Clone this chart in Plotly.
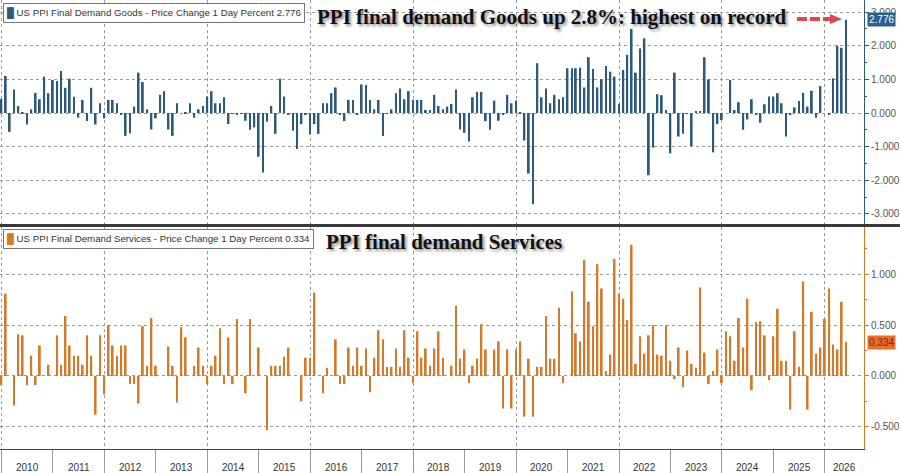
import pandas as pd
import plotly.graph_objects as go

# ---------------- data ----------------
months = pd.date_range("2009-12-31", periods=198, freq="ME")

goods = [
    0.42, 1.10, -0.56, 0.70, 0.21, 0.02, -0.34, 0.11, 0.60, 0.41, 1.08, 0.59,
    0.98, 0.95, 1.25, 0.75, 1.02, 0.48, -0.14, 0.39, -0.24, 0.75, -0.34, 0.29,
    -0.16, 0.39, 0.39, 0.29, -0.06, -0.68, -0.60, 0.19, 1.20, 0.92, 0.11, -0.49,
    -0.16, 0.54, 0.65, -0.49, -0.68, 0.29, 0.00, 0.01, 0.29, -0.14, 0.11, 0.21,
    0.49, 0.65, 0.29, 0.29, 0.47, -0.33, -0.02, -0.06, -0.02, -0.23, -0.50, -0.43,
    -1.30, -1.77, -0.26, 0.21, -0.62, 1.02, 0.49, -0.06, -0.53, -1.07, -0.33, -0.06,
    -0.63, -0.33, -0.62, 0.29, 0.29, 0.59, 0.76, -0.06, -0.24, 0.39, 0.39, -0.06,
    0.85, 0.83, 0.39, 0.11, 0.39, -0.68, -0.02, 0.11, 0.59, 0.73, 0.41, 0.65,
    0.39, 0.39, 0.39, 0.09, 0.09, 0.54, 0.21, 0.11, 0.19, 0.27, 0.70, -0.49,
    -0.59, -0.85, 0.47, 0.63, 0.63, -0.24, -0.50, 0.37, -0.23, -0.06, 0.54, 0.29,
    0.37, 0.02, -0.82, -1.80, -2.71, 1.48, 0.47, 0.73, 0.29, 0.54, 0.41, 0.47,
    1.33, 1.33, 1.33, 1.35, 0.76, 1.66, 1.31, 0.76, 1.00, 1.40, 1.23, 1.08,
    0.26, 1.28, 1.73, 2.50, 1.20, 1.92, 2.22, -1.85, -1.03, 0.56, 0.53, 0.09,
    -1.20, 1.20, -0.70, -0.62, -0.02, -0.98, 0.06, 0.06, 1.66, 1.00, -1.17, -0.33,
    -0.21, 0.00, 0.98, 0.09, 0.32, -0.50, -0.19, 0.41, -0.04, -0.29, 0.26, 0.49,
    0.49, 0.59, 0.29, -0.70, -0.06, 0.17, 0.36, 0.60, 0.19, 0.66, -0.14, 0.80,
    0.00, -0.06, 1.03, 2.00, 1.94, 2.776,
]

services = [
    -0.09, 0.81, 0.00, -0.29, 0.41, 0.40, -0.09, 0.20, -0.09, 0.30, 0.00, 0.11,
    0.00, 0.40, 0.11, 0.59, 0.30, 0.20, 0.20, 0.11, 0.40, 0.20, -0.38, 0.40,
    -0.18, 0.50, 0.30, 0.20, 0.30, 0.30, -0.08, -0.08, -0.27, 0.49, 0.10, 0.57,
    0.10, 0.00, 0.00, 0.29, 0.10, -0.26, 0.48, 0.38, 0.00, 0.10, 0.28, 0.10,
    -0.08, 0.10, 0.20, 0.47, -0.08, 0.38, -0.08, 0.56, 0.00, -0.17, 0.56, 0.00,
    0.28, 0.00, -0.53, 0.10, 0.10, 0.10, 0.19, 0.28, 0.00, 0.00, -0.25, 0.18,
    0.18, 0.82, 0.00, -0.17, 0.08, 0.00, 0.36, -0.08, -0.08, 0.28, 0.10, 0.28,
    0.10, 0.27, -0.16, 0.18, 0.45, 0.36, 0.09, 0.09, 0.27, 0.09, 0.45, 0.18,
    -0.07, 0.44, 0.18, 0.27, 0.10, 0.27, 0.44, 0.18, 0.00, 0.10, 0.69, 0.17,
    0.26, -0.07, 0.10, 0.17, 0.51, 0.26, 0.00, 0.26, 0.34, -0.32, 0.26, -0.32,
    0.26, 0.34, -0.40, 0.17, -0.40, 0.09, 0.09, 0.59, 0.17, 0.17, 0.67, -0.07,
    0.00, 0.83, 0.42, 0.34, 1.14, 0.73, 0.49, 1.10, 0.86, 0.05, 0.21, 1.15,
    0.81, 0.76, 0.55, 1.29, 0.12, 0.39, 0.22, 0.40, 0.50, 0.21, 0.20, 0.50,
    0.15, -0.03, 0.28, -0.11, 0.25, 0.12, 0.08, 0.87, 0.23, -0.08, 0.05, 0.26,
    -0.07, 0.44, 0.39, 0.15, 0.57, 0.28, 0.76, -0.14, 0.53, 0.54, 0.40, -0.04,
    0.39, 0.66, 0.15, 0.15, -0.33, 0.44, 0.09, 0.93, -0.33, 0.63, 0.22, 0.28,
    0.56, 0.86, 0.31, 0.26, 0.73, 0.334,
]

years = list(range(2010, 2027))
goods_ticks = [-3, -2, -1, 0, 1, 2, 3]
services_ticks = [-0.5, 0.0, 0.5, 1.0]

goods_name = "US PPI Final Demand Goods - Price Change 1 Day Percent"
services_name = "US PPI Final Demand Services - Price Change 1 Day Percent"
goods_title = "PPI final demand Goods up 2.8%: highest on record"
services_title = "PPI final demand Services"

# ---------------- style ----------------
W, H = 900, 473
ML, MR, MT, MB = 0, 36, 0, 24
PW, PH = W - ML - MR, H - MT - MB
GOODS_C = "#2c5a78"
SERV_C = "#d27b2d"
GRID_C = "#9a9a9a"
TXT_C = "#555555"
FONT = "Liberation Sans"
X0, X1 = pd.Timestamp("2009-12-21"), pd.Timestamp("2026-10-05")

top_dom = [(PH - 224) / PH, 1.0]
bot_dom = [0.0, (PH - 227) / PH]

fig = go.Figure()
fig.add_trace(go.Bar(x=months, y=goods, marker_color=GOODS_C, marker_line_width=0,
                     xaxis="x", yaxis="y", showlegend=False))
fig.add_trace(go.Bar(x=months, y=services, marker_color=SERV_C, marker_line_width=0,
                     xaxis="x2", yaxis="y2", showlegend=False))

def fmt(v):
    return f"{v:.3f}"

common_x = dict(type="date", range=[X0, X1], showgrid=True, gridcolor=GRID_C,
                griddash="dot", gridwidth=1, tick0="2010-01-01", dtick="M24",
                showticklabels=False, zeroline=False)

fig.update_layout(
    width=W, height=H,
    margin=dict(l=ML, r=MR, t=MT, b=MB),
    paper_bgcolor="white", plot_bgcolor="white",
    bargap=0.55,
    font=dict(family=FONT, size=10, color=TXT_C),
    xaxis=dict(**common_x, anchor="y", ticks=""),
    xaxis2=dict(**common_x, anchor="y2", showline=True, linecolor="#444444", linewidth=1,
                ticks="outside", ticklen=24, tickcolor="#9a9a9a", tickwidth=1,
                minor=dict(tick0="2010-01-01", dtick="M12", ticks="outside", ticklen=24,
                           tickcolor="#9a9a9a", tickwidth=1, showgrid=False)),
    yaxis=dict(domain=top_dom, anchor="x", side="right", range=[-3.3, 3.36],
               tickmode="array", tickvals=goods_ticks, ticktext=[fmt(v) for v in goods_ticks],
               showgrid=True, gridcolor=GRID_C, griddash="dot", zeroline=False,
               showline=True, linecolor=GOODS_C, linewidth=1,
               ticks="outside", ticklen=4, tickcolor=GOODS_C,
               minor=dict(tickmode="linear", tick0=0, dtick=0.5, ticks="outside", ticklen=2,
                          tickcolor=GOODS_C, showgrid=False),
               tickfont=dict(size=10, color=TXT_C)),
    yaxis2=dict(domain=bot_dom, anchor="x2", side="right", range=[-0.718, 1.465],
                tickmode="array", tickvals=services_ticks,
                ticktext=[fmt(v) for v in services_ticks],
                showgrid=True, gridcolor=GRID_C, griddash="dot", zeroline=False,
                showline=True, linecolor=SERV_C, linewidth=1,
                ticks="outside", ticklen=4, tickcolor=SERV_C,
                minor=dict(tickmode="linear", tick0=0, dtick=0.25, ticks="outside", ticklen=2,
                           tickcolor=SERV_C, showgrid=False),
                tickfont=dict(size=10, color=TXT_C)),
)

shapes = []
# separator between panels
shapes.append(dict(type="line", xref="paper", yref="paper", x0=0, x1=W / PW,
                   y0=(PH - 225.5) / PH, y1=(PH - 225.5) / PH,
                   line=dict(color="#3a3a3a", width=3)))
# red dashed arrow
ay = 1 - 19 / PH
shapes.append(dict(type="line", xref="paper", yref="paper", x0=797 / PW, x1=831 / PW,
                   y0=ay, y1=ay, line=dict(color="#e0464e", width=4, dash="10px,3px")))
shapes.append(dict(type="path", xref="paper", yref="paper",
                   path=f"M {830/PW} {ay + 5/PH} L {842/PW} {ay} L {830/PW} {ay - 5/PH} Z",
                   fillcolor="#e0464e", line=dict(width=0)))
fig.update_layout(shapes=shapes)

LEG_SIZE = 9.7
ann = []
# legend boxes
ann.append(dict(xref="paper", yref="paper", x=3 / PW, y=1 - 3 / PH, xanchor="left", yanchor="top",
                text=f'<span style="color:{GOODS_C}">\u2588</span> {goods_name} {fmt(goods[-1])}',
                showarrow=False, bgcolor="white", bordercolor="#777777", borderwidth=1,
                borderpad=3, font=dict(size=LEG_SIZE, color="#333333")))
ann.append(dict(xref="paper", yref="paper", x=3 / PW, y=1 - 229 / PH, xanchor="left", yanchor="top",
                text=f'<span style="color:{SERV_C}">\u2588</span> {services_name} {fmt(services[-1])}',
                showarrow=False, bgcolor="white", bordercolor="#777777", borderwidth=1,
                borderpad=3, font=dict(size=LEG_SIZE, color="#333333")))
# titles
ann.append(dict(xref="paper", yref="paper", x=552 / PW, y=1 - 17 / PH, xanchor="center",
                yanchor="middle", text=f"<b>{goods_title}</b>", showarrow=False,
                font=dict(family="Liberation Serif", size=21, color="#111111",
                          shadow="2px 2px 3px rgba(0,0,0,0.45)")))
ann.append(dict(xref="paper", yref="paper", x=444 / PW, y=1 - 242 / PH, xanchor="center",
                yanchor="middle", text=f"<b>{services_title}</b>", showarrow=False,
                font=dict(family="Liberation Serif", size=21, color="#111111",
                          shadow="2px 2px 3px rgba(0,0,0,0.45)")))
# value tags
ann.append(dict(xref="paper", yref="y", x=1, y=goods[-1], xanchor="left", yanchor="middle",
                xshift=3, text=fmt(goods[-1]), showarrow=False, bgcolor="#2a6090",
                borderpad=1, font=dict(size=10, color="white")))
ann.append(dict(xref="paper", yref="y2", x=1, y=services[-1], xanchor="left", yanchor="middle",
                xshift=3, text=fmt(services[-1]), showarrow=False, bgcolor="#e8702a",
                borderpad=1, font=dict(size=10, color="#a01800")))
# year labels
for yr in years:
    s = max(pd.Timestamp(yr, 1, 1), X0)
    e = min(pd.Timestamp(yr + 1, 1, 1), X1)
    mid = s + (e - s) / 2
    ann.append(dict(xref="x2", yref="paper", x=mid, y=-18 / PH, xanchor="center",
                    yanchor="middle", text=str(yr), showarrow=False,
                    font=dict(size=10, color="#333333")))
fig.update_layout(annotations=ann)

fig.write_html("out.html")
